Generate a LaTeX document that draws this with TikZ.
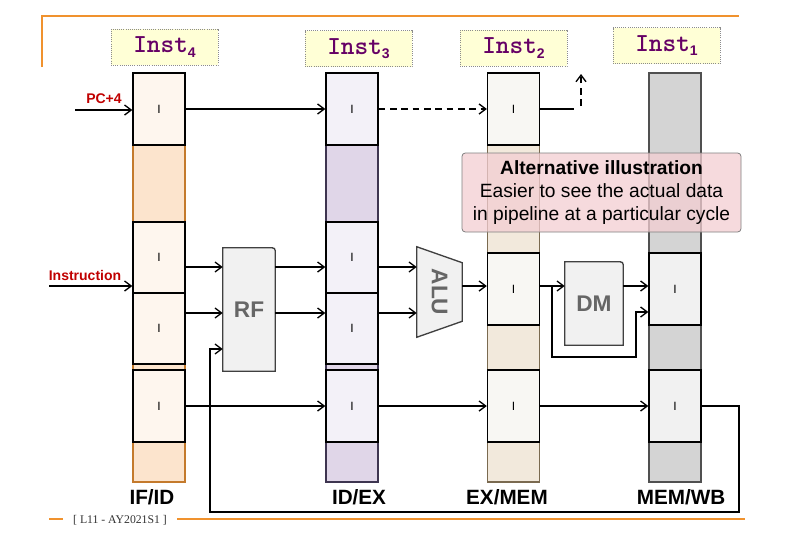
\documentclass[tikz,border=0pt]{standalone}
\usepackage{fontspec}
\setmainfont{Liberation Sans}
\newfontfamily\footfont{Liberation Serif}
\newfontfamily\instfont{lmmonolt10-bold.otf}
\usetikzlibrary{positioning,arrows,arrows.meta,calc,backgrounds}

\definecolor{frameorange}{HTML}{F0922E}
\definecolor{labelred}{HTML}{C00000}
\definecolor{instpurple}{HTML}{660066}
\definecolor{instyellow}{HTML}{FFFFD6}
\definecolor{ifidbox}{HTML}{FEF6EE}
\definecolor{ifidcol}{HTML}{FCE4CD}
\definecolor{ifidline}{HTML}{C47A2C}
\definecolor{idexbox}{HTML}{F3F1F8}
\definecolor{idexcol}{HTML}{E0D6E8}
\definecolor{idexline}{HTML}{3E3550}
\definecolor{exmembox}{HTML}{F8F7F3}
\definecolor{exmemcol}{HTML}{F2E9DC}
\definecolor{exmemline}{HTML}{7A6A50}
\definecolor{memwbbox}{HTML}{F1F1F1}
\definecolor{memwbcol}{HTML}{D4D4D4}
\definecolor{memwbline}{HTML}{505050}
\definecolor{unitfill}{HTML}{F1F1F1}
\definecolor{unittext}{HTML}{666666}
\definecolor{notepink}{HTML}{F3CED2}

\newcommand{\instlabel}[1]{{\instfont Inst}\raisebox{-3.5pt}{\fontsize{10.5}{10.5}\selectfont\bfseries #1}}

\tikzset{
  regcol/.style={rectangle, line width=0.8pt, minimum width=39pt, minimum height=306.75pt, inner sep=0pt},
  regbox/.style={rectangle, draw=black, line width=1pt, minimum width=39pt, minimum height=54pt, inner sep=0pt, font=\fontsize{9}{9}\selectfont},
  halfbox/.style={regbox, minimum height=53.25pt},
  instbox/.style={rectangle, draw=black!45, densely dotted, line width=0.6pt, fill=instyellow, minimum width=80.25pt, minimum height=27pt, inner sep=0pt, text=instpurple, font=\fontsize{19.5}{19.5}\selectfont},
  stagelbl/.style={inner sep=0pt, font=\fontsize{15.5}{15.5}\selectfont\bfseries},
  siglbl/.style={text=labelred, inner sep=0pt, font=\fontsize{10.5}{10.5}\selectfont\bfseries},
  unitbox/.style={rectangle, inner sep=0pt, text=unittext, font=\fontsize{17}{17}\selectfont\bfseries},
  unitline/.style={draw=black!75, line width=1pt, fill=unitfill},
  wire/.style={line width=1pt},
  dashwire/.style={wire, dash pattern=on 5pt off 3.5pt},
}

\begin{document}
\begin{tikzpicture}[x=0.75pt,y=-0.75pt,>={Straight Barb[length=5pt,width=7.5pt]}]
  \useasboundingbox (0,0) rectangle (792,543);

  % frame and footer
  \draw[frameorange, line width=1.2pt] (42,67) -- (42,16) -- (739,16);
  \draw[frameorange, line width=1.2pt] (49,519) -- (745,519);
  \node[fill=white, inner xsep=8pt, inner ysep=1pt, text=black!80, font=\footfont\fontsize{8.8}{8.8}\selectfont] (foot) at (120,520) {[ L11 - AY2021S1 ]};

  % pipeline register columns
  \node[regcol, fill=ifidcol, draw=ifidline] (cIF) at (159,277.5) {};
  \node[regcol, fill=idexcol, draw=idexline] (cID) at (352,277.5) {};
  \node[regcol, fill=exmemcol, draw=exmemline] (cEX) at (513.5,277.5) {};
  \node[regcol, fill=memwbcol, draw=memwbline] (cMW) at (675,277.5) {};

  % register fields
  \node[regbox, fill=ifidbox] (f1) at (159,109) {I};
  \node[halfbox, fill=ifidbox] (f2) at (159,257.5) {I};
  \node[halfbox, fill=ifidbox] (f3) at (159,328.5) {I};
  \node[regbox, fill=ifidbox] (f4) at (159,406) {I};

  \node[regbox, fill=idexbox] (d1) at (352,109) {I};
  \node[halfbox, fill=idexbox] (d2) at (352,257.5) {I};
  \node[halfbox, fill=idexbox] (d3) at (352,328.5) {I};
  \node[regbox, fill=idexbox] (d4) at (352,406) {I};

  \node[regbox, fill=exmembox] (e1) at (513.5,109) {I};
  \node[regbox, fill=exmembox] (e2) at (513.5,289) {I};
  \node[regbox, fill=exmembox] (e3) at (513.5,406) {I};

  \node[regbox, fill=memwbbox] (m2) at (675,289) {I};
  \node[regbox, fill=memwbbox] (m3) at (675,406) {I};

  % stage names
  \node[stagelbl, below=5pt of cIF, xshift=-5.25pt] (lIF) {IF/ID};
  \node[stagelbl, below=5pt of cID, xshift=5.25pt] (lID) {ID/EX};
  \node[stagelbl, below=5pt of cEX, xshift=-4.9pt] (lEX) {EX/MEM};
  \node[stagelbl, below=5pt of cMW, xshift=4.5pt] (lMW) {MEM/WB};

  % instruction tags
  \node[instbox] (i4) at (164.5,47) {\instlabel{4}};
  \node[instbox] (i3) at (358.5,48.5) {\instlabel{3}};
  \node[instbox] (i2) at (513.5,48) {\instlabel{2}};
  \node[instbox] (i1) at (666.5,45.5) {\instlabel{1}};

  % units
  \node[unitbox, minimum width=39pt, minimum height=92.25pt] (rf) at (249,309.5) {RF};
  \node[unitbox, minimum width=33.75pt, minimum height=67.5pt] (alu) at (439.5,292) {\rotatebox{-90}{ALU}};
  \node[unitbox, minimum width=43.5pt, minimum height=62.25pt] (dm) at (594,303.5) {DM};
  \begin{scope}[on background layer]
    \draw[unitline] (rf.south west) -- (rf.north west) -- ([xshift=-5pt]rf.north east) .. controls (rf.north east) .. ([yshift=-5pt]rf.north east) -- (rf.south east) -- cycle;
    \draw[unitline] (alu.north west) -- ([yshift=-12pt]alu.north east) -- ([yshift=12pt]alu.south east) -- (alu.south west) -- cycle;
    \draw[unitline] (dm.south west) -- (dm.north west) -- ([xshift=-5pt]dm.north east) .. controls (dm.north east) .. ([yshift=-5pt]dm.north east) -- (dm.south east) -- cycle;
  \end{scope}

  % lanes
  \coordinate (laneA) at (0,267);
  \coordinate (laneB) at (0,313);
  \coordinate (laneC) at (0,286);
  \coordinate (laneD) at (0,312);
  \coordinate (laneW) at (0,349);

  % inputs
  \coordinate (pcin) at (75,110);
  \coordinate (insin) at (49,286);
  \node[siglbl] (pclbl) at (104,99) {PC+4};
  \node[siglbl] (inslbl) at (85,275) {Instruction};
  \draw[wire,->] (pcin) -- (f1.west |- pcin);
  \draw[wire,->] (insin) -- (f2.west |- insin);

  % PC+4 path
  \path[wire,->] (f1) edge (d1);
  \path[dashwire,->] (d1) edge (e1);
  \coordinate (pcend) at (574,109);
  \coordinate (pcup) at (581,74);
  \draw[wire] (e1.east) -- (pcend);
  \draw[dashwire,->] (pcup |- 0,106) -- (pcup);

  % datapath
  \draw[wire,->] (f2.east |- laneA) -- (rf.west |- laneA);
  \draw[wire,->] (f3.east |- laneB) -- (rf.west |- laneB);
  \draw[wire,->] (rf.east |- laneA) -- (d2.west |- laneA);
  \draw[wire,->] (rf.east |- laneB) -- (d3.west |- laneB);
  \draw[wire,->] (d2.east |- laneA) -- (alu.west |- laneA);
  \draw[wire,->] (d3.east |- laneB) -- (alu.west |- laneB);
  \draw[wire,->] (alu.east |- laneC) -- (e2.west |- laneC);
  \draw[wire,->] (e2.east |- laneC) -- (dm.west |- laneC);
  \draw[wire,->] (dm.east |- laneC) -- (m2.west |- laneC);
  \coordinate (byp) at (552,286);
  \coordinate (bypdown) at (636,357);
  \draw[wire,->] (byp) |- (bypdown) |- (m2.west |- laneD);

  % lower path
  \path[wire,->] (f4) edge (d4);
  \path[wire,->] (d4) edge (e3);
  \path[wire,->] (e3) edge (m3);

  % write back
  \coordinate (wbR) at (739,512);
  \coordinate (wbL) at (210,512);
  \draw[wire,->] (m3.east) -| (wbR) -- (wbL) |- (rf.west |- laneW);

  % note
  \node[draw=black!50, line width=0.6pt, rounded corners=2.5pt, fill=notepink, fill opacity=0.75, text opacity=1, minimum width=209.25pt, minimum height=59.25pt, align=center, font=\fontsize{14.4}{17}\selectfont] (note) at (601.5,192.5) {\textbf{Alternative illustration}\\Easier to see the actual data\\in pipeline at a particular cycle};

\end{tikzpicture}
\end{document}
